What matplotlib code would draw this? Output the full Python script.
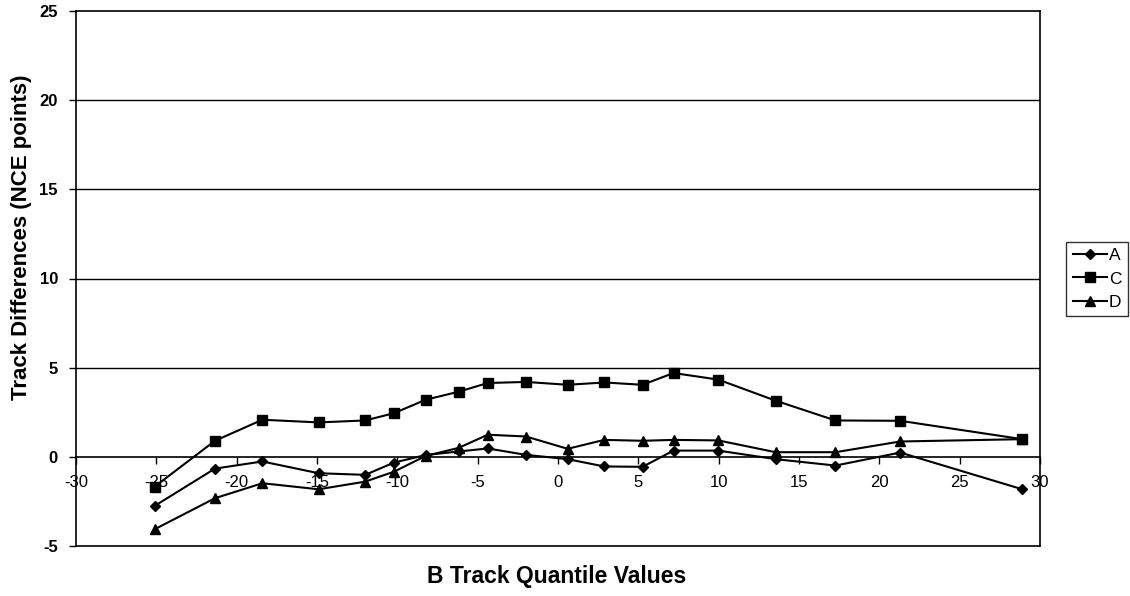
import matplotlib
matplotlib.use("Agg")
import matplotlib.pyplot as plt

plt.rcParams['font.family'] = ['Liberation Sans', 'DejaVu Sans']
plt.rcParams['axes.unicode_minus'] = False

x_vals = [-25.1, -21.35, -18.4, -14.9, -12.0, -10.2, -8.24, -6.19, -4.37, -1.99,
          0.6, 2.88, 5.26, 7.19, 9.98, 13.54, 17.27, 21.3, 28.9]
series_A = [-2.75, -0.66, -0.26, -0.92, -1.01, -0.32, 0.1, 0.3, 0.47, 0.11,
            -0.13, -0.54, -0.56, 0.35, 0.35, -0.13, -0.49, 0.24, -1.82]
series_C = [-1.67, 0.9, 2.08, 1.93, 2.04, 2.45, 3.2, 3.65, 4.14, 4.2,
            4.04, 4.17, 4.04, 4.7, 4.33, 3.15, 2.04, 2.02, 0.99]
series_D = [-4.06, -2.32, -1.48, -1.82, -1.39, -0.83, 0.05, 0.5, 1.24, 1.14,
            0.45, 0.95, 0.9, 0.95, 0.92, 0.26, 0.26, 0.86, 0.99]
labels = ['A', 'C', 'D']
x_ticks = list(range(-30, 31, 5))
y_ticks = list(range(-5, 26, 5))

fig = plt.figure(figsize=(11.30, 5.96), dpi=100)
ax = fig.add_axes([76/1130, 50/596, (1040-76)/1130, (546-11)/596])

ax.plot(x_vals, series_A, color='black', lw=1.5, marker='D', ms=5.5, label=labels[0], zorder=3)
ax.plot(x_vals, series_C, color='black', lw=1.5, marker='s', ms=6.5, label=labels[1], zorder=3)
ax.plot(x_vals, series_D, color='black', lw=1.5, marker='^', ms=7, label=labels[2], zorder=3)

ax.set_xlim(-30, 30)
ax.set_ylim(-5, 25)
ax.set_xticks(x_ticks)
ax.set_yticks(y_ticks)
for yv in y_ticks[2:-1]:
    ax.axhline(yv, color='black', lw=1.0, zorder=1)

ax.spines['bottom'].set_position(('data', 0))
for s in ['left', 'right', 'top', 'bottom']:
    ax.spines[s].set_linewidth(1.2)
    ax.spines[s].set_color('black')
ax.plot([0, 1], [0, 0], transform=ax.transAxes, color='black', lw=1.2, clip_on=False)

ax.tick_params(axis='x', direction='out', length=5, width=1, labelsize=12, pad=8)
ax.tick_params(axis='y', direction='out', length=5, width=1, labelsize=12, pad=8)
for t in ax.get_yticklabels():
    t.set_fontweight('bold')

fig.text(557/1130, 1 - 577/596, 'B Track Quantile Values', ha='center', va='center',
         fontsize=16.5, fontweight='bold')
fig.text(22/1130, 1 - 237/596, 'Track Differences (NCE points)', ha='center', va='center',
         rotation=90, fontsize=16, fontweight='bold')

leg = fig.legend(loc='center', bbox_to_anchor=(1097/1130, 1 - 279/596), frameon=True,
                 fancybox=False, fontsize=12.5, handlelength=2.0, handletextpad=0.1,
                 borderpad=0.35, labelspacing=0.5, borderaxespad=0)
leg.get_frame().set_edgecolor('black')
leg.get_frame().set_linewidth(1.0)

fig.savefig('out.png', dpi=100)
